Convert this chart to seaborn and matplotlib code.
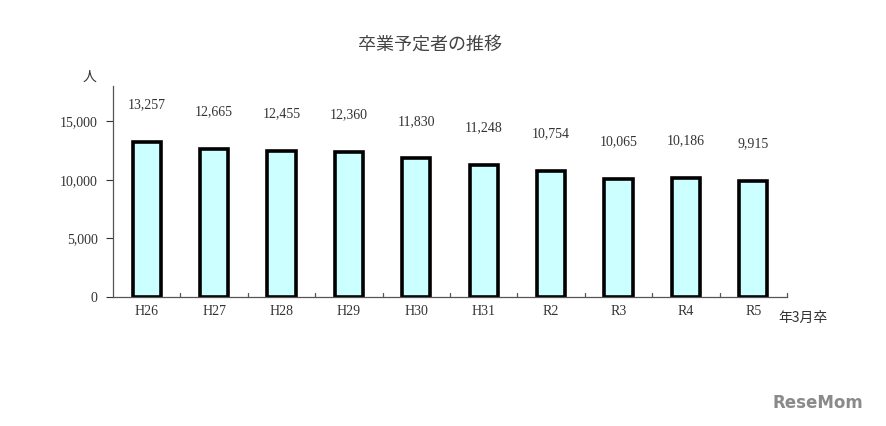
import matplotlib
matplotlib.use("Agg")
import matplotlib.pyplot as plt
import seaborn as sns
import pandas as pd

categories = ["H26", "H27", "H28", "H29", "H30", "H31", "R2", "R3", "R4", "R5"]
values = [13257, 12665, 12455, 12360, 11830, 11248, 10754, 10065, 10186, 9915]
y_ticks = [0, 5000, 10000, 15000]
y_tick_labels = ["0", "5,000", "10,000", "15,000"]
title = "卒業予定者の推移"
y_unit = "人"
x_unit = "年3月卒"

sns.set_theme(style="white")
plt.rcParams['font.family'] = ['Noto Sans CJK JP', 'DejaVu Sans']

df = pd.DataFrame({"cat": categories, "val": values})

num_font = ['Liberation Serif', 'DejaVu Serif']

fig = plt.figure(figsize=(8.87, 4.26), dpi=100)
ax = fig.add_axes([113/887, 129/426, 674/887, 211/426])
sns.barplot(data=df, x="cat", y="val", ax=ax, color="#CCFFFF", width=0.42,
            edgecolor="black", linewidth=2.6, saturation=1)

ax.set_ylim(0, 18000)
ax.set_xlim(-0.5, len(categories) - 0.5)
ax.set_yticks(y_ticks)
ax.set_yticklabels(y_tick_labels, family=num_font, fontsize=10)
ax.set_xticks(range(len(categories)))
ax.set_xticklabels(categories, family=num_font, fontsize=10)
ax.tick_params(axis='x', length=0, pad=6)
ax.tick_params(axis='y', direction='out', length=5, width=0.8, left=True, pad=6, colors='#333333')
ax.tick_params(axis='x', colors='#333333')
for s in ["top", "right"]:
    ax.spines[s].set_visible(False)
for s in ["left", "bottom"]:
    ax.spines[s].set_color("#555555")
    ax.spines[s].set_linewidth(0.9)
# category separator ticks on x axis (inward)
for i in range(len(categories)):
    ax.plot([i + 0.5, i + 0.5], [0, 300], color="#555555", lw=0.9, clip_on=False)
ax.set_xlabel("")
ax.set_ylabel("")
ax.grid(False)

for i, v in enumerate(values):
    ax.annotate(f"{v:,}", (i, v), xytext=(0, 22), textcoords="offset points",
                ha="center", va="bottom", fontsize=10, color="#333333",
                family=num_font)

fig.text(430/887, 1 - 45/426, title, ha="center", va="center", fontsize=13, color="#444444")
fig.text(90/887, 1 - 77/426, y_unit, ha="center", va="center", fontsize=10, color="#333333")
fig.text(778/887, 1 - 318/426, x_unit, ha="left", va="center", fontsize=10, color="#333333")
fig.text(818/887, 1 - 403/426, "ReseMom", ha="center", va="center", fontsize=12,
         fontweight="bold", color="#8a8a8a", family=['DejaVu Sans'])

fig.savefig("out.png", dpi=100, facecolor="white")
